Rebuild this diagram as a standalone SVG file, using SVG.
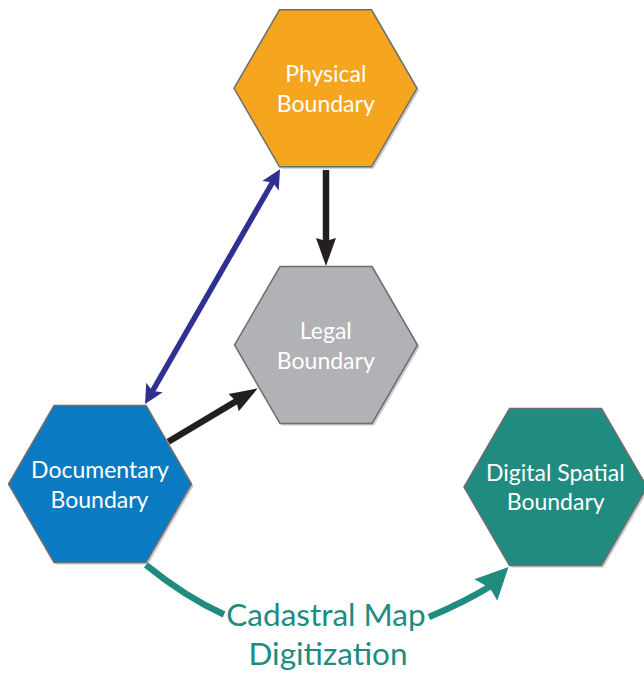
<svg xmlns="http://www.w3.org/2000/svg" xmlns:xlink="http://www.w3.org/1999/xlink" width="644" height="676" viewBox="0 0 644 676">
<style>
.hex{stroke:#6d6e71;stroke-width:1.5;stroke-linejoin:miter}
.shadow{fill:#c9cacc;stroke:none}
.lbl{font-family:Lato,"Open Sans",sans-serif;font-size:23px;fill:#ffffff;text-anchor:middle}
.big{font-family:Lato,"Open Sans",sans-serif;font-size:31.5px;fill:#208c80;text-anchor:middle}
.blk{stroke:#231f20;stroke-width:6.5;fill:none}
.blu{stroke:#2e3192;stroke-width:5.5;fill:none}
.tea{stroke:#208c80;stroke-width:6.5;fill:none}
</style>
<defs>
<polygon id="hexshape" points="-46,-78.5 46,-78.5 91.5,0 46,78.5 -46,78.5 -91.5,0"/>
<marker id="mBlk" markerUnits="userSpaceOnUse" orient="auto" refX="-12" refY="0" overflow="visible">
<path d="M0,0 L-28,-10 L-25,0 L-28,10 Z" fill="#231f20"/>
</marker>
<marker id="mBlu" markerUnits="userSpaceOnUse" orient="auto-start-reverse" refX="-10" refY="0" overflow="visible">
<path d="M0,0 L-19,-9.5 L-15,0 L-19,9.5 Z" fill="#2e3192"/>
</marker>
</defs>
<g id="node-physical">
<use xlink:href="#hexshape" class="shadow" transform="translate(327.5,90.3)"/>
<use xlink:href="#hexshape" class="hex" fill="#f6a51e" transform="translate(325.5,88.3)"/>
<text class="lbl" x="325.8" y="82">Physical</text>
<text class="lbl" x="325.8" y="111.7">Boundary</text>
</g>
<g id="node-legal">
<use xlink:href="#hexshape" class="shadow" transform="translate(328,347)"/>
<use xlink:href="#hexshape" class="hex" fill="#b1b2b5" transform="translate(326,345)"/>
<text class="lbl" x="325.8" y="338.5">Legal</text>
<text class="lbl" x="325.8" y="368.5">Boundary</text>
</g>
<g id="node-documentary">
<use xlink:href="#hexshape" class="shadow" transform="translate(102,486)"/>
<use xlink:href="#hexshape" class="hex" fill="#0a7bc2" transform="translate(100,484)"/>
<text class="lbl" x="100" y="478.3">Documentary</text>
<text class="lbl" x="99.5" y="507.5">Boundary</text>
</g>
<g id="node-digital">
<use xlink:href="#hexshape" class="shadow" transform="translate(557.5,489)"/>
<use xlink:href="#hexshape" class="hex" fill="#208c80" transform="translate(555.5,487)"/>
<text class="lbl" x="555.3" y="481">Digital Spatial</text>
<text class="lbl" x="555.7" y="510">Boundary</text>
</g>
<g id="connectors">
<line class="blu" x1="150" y1="395.3" x2="275" y2="178" marker-start="url(#mBlu)" marker-end="url(#mBlu)"/>
<line class="blk" x1="326" y1="170" x2="326" y2="254" marker-end="url(#mBlk)"/>
<line class="blk" x1="168.3" y1="441.7" x2="247.4" y2="394.5" marker-end="url(#mBlk)"/>
<path class="tea" d="M146,565 Q185.5,597 224,614.5"/>
<path class="tea" d="M429,617 Q465,602 494,584"/>
<polygon points="508.5,567 474.3,579.3 490,588 497.3,600.7" fill="#208c80"/>
</g>
<g id="label-digitization">
<text class="big" x="326" y="626">Cadastral Map</text>
<text class="big" x="328" y="665">Digitization</text>
</g>
</svg>
